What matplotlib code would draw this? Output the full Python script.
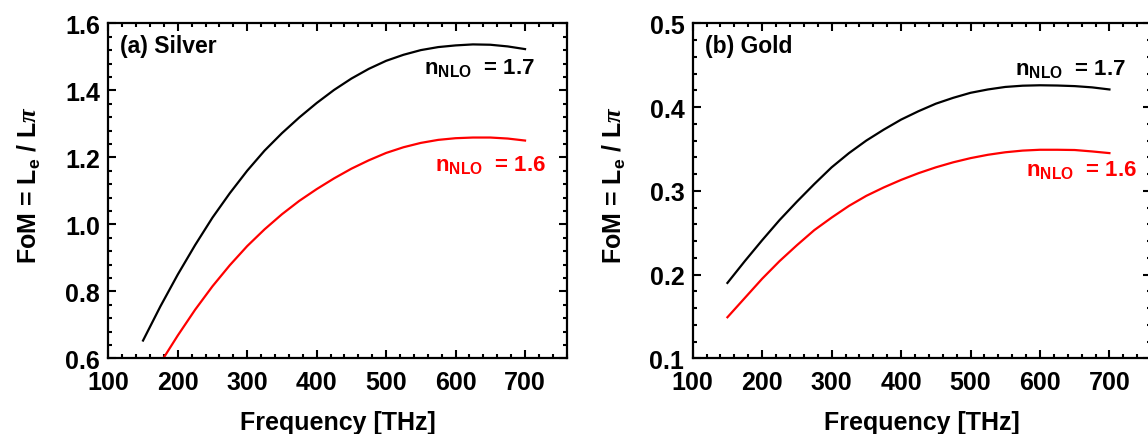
import matplotlib
matplotlib.use('Agg')
import matplotlib.pyplot as plt
from matplotlib.ticker import MultipleLocator

# ---------------- data ----------------
freq = [150, 175, 200, 225, 250, 275, 300, 325, 350, 375, 400, 425,
        450, 475, 500, 525, 550, 575, 600, 625, 650, 675, 700]

silver_n17 = [0.653, 0.755, 0.850, 0.938, 1.020, 1.093, 1.160, 1.220, 1.272,
              1.319, 1.362, 1.401, 1.435, 1.464, 1.488, 1.506, 1.520, 1.529,
              1.534, 1.537, 1.536, 1.531, 1.523]
silver_n16 = [0.497, 0.586, 0.668, 0.745, 0.815, 0.878, 0.935, 0.985, 1.030,
              1.070, 1.105, 1.137, 1.166, 1.191, 1.213, 1.230, 1.243, 1.252,
              1.257, 1.259, 1.259, 1.256, 1.250]

gold_n17 = [0.190, 0.216, 0.241, 0.265, 0.287, 0.308, 0.328, 0.345, 0.360,
            0.373, 0.385, 0.395, 0.404, 0.411, 0.417, 0.421, 0.424, 0.4255,
            0.426, 0.4257, 0.425, 0.4235, 0.421]
gold_n16 = [0.149, 0.172, 0.195, 0.216, 0.235, 0.253, 0.268, 0.282, 0.294,
            0.304, 0.313, 0.321, 0.328, 0.334, 0.339, 0.343, 0.346, 0.348,
            0.349, 0.349, 0.3487, 0.347, 0.345]

panel_titles = ['(a) Silver', '(b) Gold']
label_17 = 'n$_{NLO}$  = 1.7'
label_16 = 'n$_{NLO}$  = 1.6'
xlabel = 'Frequency [THz]'
ylabel = r'FoM = L$_e$ / L$\mathit{\pi}$'

# ---------------- style ----------------
plt.rcParams.update({
    'font.family': ['Liberation Sans', 'DejaVu Sans'],
    'font.weight': 'bold',
    'mathtext.fontset': 'custom',
    'mathtext.rm': 'Liberation Sans:bold',
    'mathtext.bf': 'Liberation Sans:bold',
    'mathtext.it': 'Liberation Serif:italic',
    'mathtext.default': 'bf',
})

W, H = 1148, 435
fig = plt.figure(figsize=(W / 100, H / 100), dpi=100)

ax_w = 458.4 / W
ax_h = 335 / H
ax_b = (H - 359.3) / H
ax1 = fig.add_axes([108.3 / W, ax_b, ax_w, ax_h])
ax2 = fig.add_axes([692.7 / W, ax_b, ax_w, ax_h])

RED = '#ff0000'
LW = 1.6
FS = 18
FS_ANN = 16


def style(ax, ylim, ymaj, ymin):
    ax.set_xlim(100, 760)
    ax.set_ylim(*ylim)
    ax.xaxis.set_major_locator(MultipleLocator(100))
    ax.xaxis.set_minor_locator(MultipleLocator(20))
    ax.yaxis.set_major_locator(MultipleLocator(ymaj))
    ax.yaxis.set_minor_locator(MultipleLocator(ymin))
    ax.tick_params(which='both', direction='in', top=True, right=True,
                   width=1.5, labelsize=FS)
    ax.tick_params(axis='x', which='both', pad=8.5)
    ax.tick_params(axis='y', which='both', pad=6)
    ax.tick_params(which='major', length=6)
    ax.tick_params(which='minor', length=3)
    for s in ax.spines.values():
        s.set_linewidth(1.6)
    for lab in ax.get_xticklabels() + ax.get_yticklabels():
        lab.set_fontweight('bold')
    ax.set_xlabel(xlabel, fontsize=FS, fontweight='bold')
    ax.set_ylabel(ylabel, fontsize=FS, fontweight='bold')
    ax.xaxis.set_label_coords(0.5, -0.155)
    ax.yaxis.set_label_coords(-0.142, 0.52)


# Silver
ax1.plot(freq, silver_n17, color='black', lw=LW)
ax1.plot(freq, silver_n16, color=RED, lw=LW)
style(ax1, (0.6, 1.6), 0.2, 0.04)
ax1.text(0.026, 0.914, panel_titles[0], transform=ax1.transAxes,
         fontsize=16.5, fontweight='bold', ha='left', va='baseline')
ax1.text(554, 1.449, label_17, fontsize=FS_ANN, fontweight='bold', color='black',
         ha='left', va='baseline')
ax1.text(571, 1.160, label_16, fontsize=FS_ANN, fontweight='bold', color=RED,
         ha='left', va='baseline')

# Gold
ax2.plot(freq, gold_n17, color='black', lw=LW)
ax2.plot(freq, gold_n16, color=RED, lw=LW)
style(ax2, (0.1, 0.5), 0.1, 0.02)
ax2.text(0.026, 0.914, panel_titles[1], transform=ax2.transAxes,
         fontsize=16.5, fontweight='bold', ha='left', va='baseline')
ax2.text(564, 0.4395, label_17, fontsize=FS_ANN, fontweight='bold', color='black',
         ha='left', va='baseline')
ax2.text(580, 0.318, label_16, fontsize=FS_ANN, fontweight='bold', color=RED,
         ha='left', va='baseline')

fig.savefig('out.png', dpi=100)
